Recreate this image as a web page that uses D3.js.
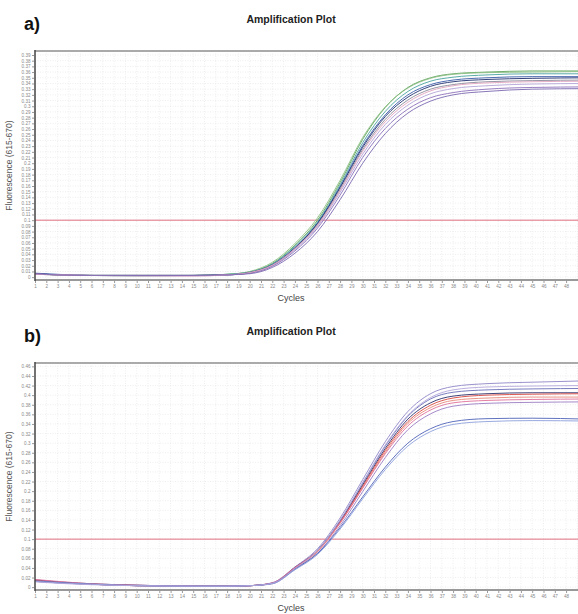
<!DOCTYPE html>
<html><head><meta charset="utf-8">
<script src="https://cdn.jsdelivr.net/npm/d3@7"></script>
<style>
html,body{margin:0;padding:0;background:#fff;}
svg{display:block;font-family:"Liberation Sans",Arial,Helvetica,sans-serif;}
</style></head>
<body>
<svg id="chart" width="578" height="614"></svg>
<script>
// ---- data ----
const cycles = [1,3,6,10,15,18,20,22,24,26,28,30,32,34,36,38,41,45,50];
const cycleTicks = d3.range(1,49);
const threshold = 0.1;

const aTicks = d3.range(0,40).map(i => +(i*0.01).toFixed(2));
const aColors = ["#5fa35a","#8cc084","#4aa3a0","#3a5ca8","#1f2f70","#8a8a9a","#b4a4d8","#8e72bd","#e3a5c0","#7b68b0"];
const aSeries = [
 [.006,.004,.003,.003,.003,.005,.009,.024,.056,.100,.166,.242,.298,.333,.350,.357,.360,.362,.362],
 [.005,.004,.003,.003,.003,.005,.010,.026,.059,.104,.170,.245,.299,.332,.349,.356,.359,.360,.361],
 [.006,.004,.003,.002,.003,.005,.009,.023,.054,.097,.162,.236,.291,.326,.344,.351,.355,.357,.357],
 [.007,.005,.003,.003,.003,.004,.008,.022,.052,.095,.159,.231,.285,.320,.338,.346,.350,.352,.352],
 [.006,.004,.003,.003,.003,.004,.008,.021,.051,.094,.157,.228,.282,.316,.335,.343,.347,.349,.350],
 [.005,.004,.003,.003,.003,.004,.008,.021,.050,.092,.154,.224,.277,.311,.330,.338,.343,.345,.346],
 [.005,.004,.003,.003,.002,.004,.007,.020,.048,.089,.149,.216,.268,.302,.322,.331,.336,.339,.340],
 [.006,.004,.003,.003,.003,.004,.007,.019,.046,.086,.144,.210,.261,.295,.315,.324,.330,.333,.334],
 [.005,.004,.003,.002,.002,.004,.008,.021,.050,.091,.152,.221,.273,.307,.327,.336,.341,.343,.344],
 [.006,.004,.003,.003,.003,.004,.006,.017,.042,.080,.136,.200,.252,.288,.309,.320,.326,.330,.331]
];

const bTicks = d3.range(0,24).map(i => +(i*0.02).toFixed(2));
const bColors = ["#8f86c8","#6a6fb8","#2b2f6a","#d9463e","#e88a7a","#e0709a","#9b7cc4","#4f63b8","#8da0dc","#b3a6dc"];
const bSeries = [
 [.012,.009,.006,.004,.002,.002,.003,.009,.042,.080,.144,.224,.303,.366,.403,.418,.424,.427,.430],
 [.013,.010,.006,.003,.002,.002,.003,.008,.040,.077,.139,.217,.294,.356,.392,.406,.411,.413,.414],
 [.015,.011,.007,.004,.002,.002,.003,.008,.041,.076,.137,.213,.289,.350,.384,.398,.403,.405,.405],
 [.014,.010,.006,.003,.002,.002,.003,.008,.040,.075,.135,.210,.285,.345,.379,.394,.400,.402,.403],
 [.013,.010,.006,.003,.002,.002,.003,.008,.039,.074,.133,.207,.281,.341,.374,.389,.394,.396,.396],
 [.016,.012,.007,.004,.002,.002,.003,.009,.041,.076,.134,.206,.278,.336,.369,.384,.389,.391,.392],
 [.012,.009,.006,.003,.002,.002,.003,.007,.037,.071,.128,.199,.270,.328,.361,.377,.383,.385,.386],
 [.013,.010,.006,.003,.002,.002,.003,.008,.038,.070,.124,.188,.250,.300,.330,.345,.351,.352,.350],
 [.012,.009,.006,.003,.002,.002,.003,.007,.036,.068,.121,.184,.245,.294,.324,.339,.345,.347,.346],
 [.011,.008,.005,.003,.002,.002,.003,.008,.039,.076,.139,.218,.296,.358,.395,.411,.417,.419,.420]
];

// ---- drawing ----
const svg = d3.select("#chart");

function panel(opt){
  const g = svg.append("g");
  const x = d3.scaleLinear().domain([1,50]).range([35, 35+49*11.3]);
  const y = d3.scaleLinear().domain(opt.yDomain).range([opt.bottom, opt.top]);
  const right = 578;

  // letter + title
  g.append("text").attr("x",24).attr("y",opt.top-21).attr("font-size",18).attr("font-weight","bold")
   .attr("fill","#111").text(opt.letter);
  g.append("text").attr("x",291).attr("y",opt.top-28).attr("font-size",10.5).attr("font-weight","bold")
   .attr("text-anchor","middle").attr("fill","#222").text("Amplification Plot");

  // grid
  g.append("g").selectAll("line").data(d3.range(1,51)).join("line")
   .attr("x1",d=>x(d)).attr("x2",d=>x(d)).attr("y1",opt.top).attr("y2",opt.bottom)
   .attr("stroke","#e2e2e2").attr("stroke-width",0.6).attr("stroke-dasharray","1,1.5");
  g.append("g").selectAll("line").data(opt.ticks).join("line")
   .attr("x1",x(1)).attr("x2",right).attr("y1",d=>y(d)).attr("y2",d=>y(d))
   .attr("stroke","#e2e2e2").attr("stroke-width",0.6).attr("stroke-dasharray","1,1.5");

  // threshold
  g.append("line").attr("x1",x(1)).attr("x2",right).attr("y1",y(threshold)).attr("y2",y(threshold))
   .attr("stroke","#e07080").attr("stroke-width",1);

  // curves
  const line = d3.line().x((d,i)=>x(cycles[i])).y(d=>y(d)).curve(d3.curveMonotoneX);
  g.append("g").selectAll("path").data(opt.series).join("path")
   .attr("d",line).attr("fill","none").attr("stroke",(d,i)=>opt.colors[i])
   .attr("stroke-width",1).attr("opacity",0.9);

  // frame
  g.append("line").attr("x1",x(1)).attr("x2",right).attr("y1",opt.top).attr("y2",opt.top)
   .attr("stroke","#aaa").attr("stroke-width",2);
  g.append("line").attr("x1",x(1)).attr("x2",right).attr("y1",opt.bottom).attr("y2",opt.bottom)
   .attr("stroke","#999").attr("stroke-width",2);
  g.append("line").attr("x1",x(1)).attr("x2",x(1)).attr("y1",opt.top-1).attr("y2",opt.bottom+1)
   .attr("stroke","#444").attr("stroke-width",1.5);

  // axes
  const yAxis = d3.axisLeft(y).tickValues(opt.ticks).tickSize(2).tickPadding(1.5)
     .tickFormat(d=>d===0?"0":d3.format("")(d));
  const ya = g.append("g").attr("transform",`translate(${x(1)-1},0)`).call(yAxis);
  ya.select(".domain").remove();
  ya.selectAll("text").attr("font-size",4.6).attr("fill","#888").attr("font-family","Liberation Sans, Arial, sans-serif");
  ya.selectAll("line").attr("stroke","#999");

  const xAxis = d3.axisBottom(x).tickValues(cycleTicks).tickSize(2).tickPadding(1.5);
  const xa = g.append("g").attr("transform",`translate(0,${opt.bottom+1})`).call(xAxis);
  xa.select(".domain").remove();
  xa.selectAll("text").attr("font-size",4.6).attr("fill","#888").attr("font-family","Liberation Sans, Arial, sans-serif");
  xa.selectAll("line").attr("stroke","#999");

  // labels
  g.append("text").attr("transform",`translate(12,${(opt.top+opt.bottom)/2}) rotate(-90)`)
   .attr("text-anchor","middle").attr("font-size",8.5).attr("fill","#555").text("Fluorescence (615-670)");
  g.append("text").attr("x",291).attr("y",opt.bottom+21).attr("text-anchor","middle")
   .attr("font-size",9).attr("fill","#444").text("Cycles");
}

panel({letter:"a)", top:51, bottom:280, yDomain:[-0.005,0.397], ticks:aTicks, series:aSeries, colors:aColors});
panel({letter:"b)", top:363, bottom:590, yDomain:[-0.006,0.467], ticks:bTicks, series:bSeries, colors:bColors});
</script>
</body></html>
